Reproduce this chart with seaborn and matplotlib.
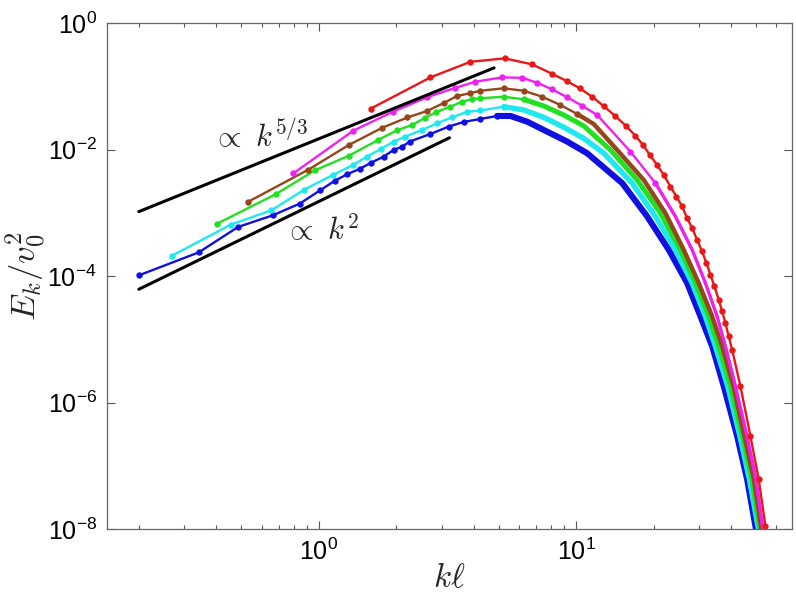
import numpy as np
import pandas as pd

import seaborn as sns
import matplotlib.pyplot as plt

# spectra (k*l, E_k/v0^2)
k_blue = [0.200, 0.342, 0.486, 0.664, 0.845, 1.015, 1.154, 1.293, 1.443, 1.592, 1.789, 1.956, 2.109, 2.257,
          2.716, 3.199, 3.659, 4.249, 4.933, 5.556, 6.451, 7.715, 9.226, 11.03, 15.1, 18.88, 22.90,
          26.99, 30.40, 33.77, 37.45, 42.22, 46.17, 49.73, 51.08]
e_blue = [1.03e-4, 2.38e-4, 6.01e-4, 9.2e-4, 1.41e-3, 2.30e-3, 3.23e-3, 4.13e-3, 4.99e-3, 6.21e-3, 7.81e-3,
          9.96e-3, 1.12e-2, 1.35e-2, 1.78e-2, 2.33e-2, 2.76e-2, 3.08e-2, 3.43e-2, 3.43e-2, 2.79e-2, 1.94e-2,
          1.35e-2, 8.84e-3, 2.97e-3, 8.81e-4, 2.62e-4, 7.81e-5, 2.32e-5, 7.78e-6, 1.82e-6, 2.95e-7, 6.10e-8,
          1.11e-8, 5.7e-9]

k_cyan = [0.268, 0.456, 0.654, 0.880, 1.137, 1.360, 1.542, 1.741, 1.956, 2.172, 2.521, 2.884, 3.298, 3.772,
          4.249, 5.232, 6.258, 7.483, 8.949, 10.70, 12.80, 16.51, 20.33, 24.31, 28.23, 31.78, 34.77, 38.81,
          43.29, 47.13, 50.86, 52.71]
e_cyan = [2.09e-4, 6.56e-4, 1.10e-3, 2.35e-3, 4.01e-3, 5.77e-3, 7.81e-3, 1.03e-2, 1.35e-2, 1.62e-2, 2.06e-2,
          2.63e-2, 3.27e-2, 4.01e-2, 4.19e-2, 4.81e-2, 4.27e-2, 3.27e-2, 2.28e-2, 1.52e-2, 8.84e-3, 2.97e-3,
          8.81e-4, 2.62e-4, 7.81e-5, 2.32e-5, 7.78e-6, 1.82e-6, 2.95e-7, 6.10e-8, 1.11e-8, 5.7e-9]

k_green = [0.401, 0.682, 0.966, 1.313, 1.695, 2.016, 2.306, 2.597, 2.866, 3.249, 3.607, 3.945, 4.249, 5.232,
           6.258, 7.483, 8.949, 10.70, 13.59, 17.26, 21.26, 25.42, 29.08, 32.74, 35.81, 39.77, 44.27, 48.19,
           51.54, 53.19]
e_green = [6.70e-4, 1.99e-3, 4.73e-3, 8.10e-3, 1.42e-2, 2.04e-2, 2.47e-2, 3.23e-2, 3.97e-2, 4.81e-2, 5.77e-2,
           6.37e-2, 6.53e-2, 6.92e-2, 6.30e-2, 4.94e-2, 3.56e-2, 2.39e-2, 9.96e-3, 3.34e-3, 9.96e-4, 2.62e-4,
           7.81e-5, 2.32e-5, 7.78e-6, 1.82e-6, 2.95e-7, 6.10e-8, 1.11e-8, 5.7e-9]

k_brown = [0.533, 0.908, 1.308, 1.763, 2.211, 2.637, 3.078, 3.449, 3.861, 4.249, 5.232, 6.258, 7.379, 8.690,
           10.09, 11.71, 14.43, 18.31, 22.23, 26.18, 29.95, 33.77, 36.92, 40.84, 45.07, 49.07, 52.24, 53.90]
e_brown = [1.51e-3, 4.81e-3, 1.19e-2, 2.23e-2, 3.25e-2, 4.12e-2, 5.57e-2, 7.11e-2, 7.84e-2, 8.61e-2, 9.40e-2,
           8.61e-2, 6.92e-2, 5.12e-2, 3.69e-2, 2.56e-2, 9.96e-3, 3.34e-3, 9.96e-4, 2.62e-4, 7.81e-5, 2.32e-5,
           7.78e-6, 1.82e-6, 2.95e-7, 6.10e-8, 1.11e-8, 5.7e-9]

k_magenta = [0.797, 1.364, 1.942, 2.637, 3.376, 4.063, 5.159, 6.169, 7.055, 8.068, 9.226, 10.55, 12.07, 16.26,
             20.33, 24.31, 28.23, 31.78, 35.30, 38.02, 41.57, 46.09, 49.95, 52.96, 54.63]
e_magenta = [4.24e-3, 2.01e-2, 4.01e-2, 6.78e-2, 9.51e-2, 0.1195, 0.140, 0.138, 0.115, 9.06e-2, 6.78e-2,
             4.99e-2, 3.56e-2, 9.37e-3, 2.97e-3, 8.81e-4, 2.62e-4, 7.81e-5, 2.32e-5, 7.78e-6, 1.82e-6, 2.95e-7,
             6.10e-8, 1.11e-8, 5.7e-9]

k_red = [1.592, 2.716, 3.885, 5.279, 6.748, 8.03, 9.226, 10.33, 11.54, 12.83, 14.21, 15.68, 17.00, 18.21,
         19.32, 20.64, 21.89, 23.25, 24.53, 25.81, 26.99, 28.23, 29.52, 30.87, 32.08, 33.25, 34.46, 35.81,
         36.92, 38.02, 39.16, 40.36, 43.48, 47.55, 51.22, 54.38, 56.10]
e_red = [4.48e-2, 0.140, 0.247, 0.280, 0.225, 0.161, 0.1217, 9.40e-2, 6.92e-2, 4.88e-2, 3.40e-2, 2.36e-2,
         1.66e-2, 1.19e-2, 8.31e-3, 5.77e-3, 4.01e-3, 2.62e-3, 1.82e-3, 1.27e-3, 8.30e-4, 5.77e-4, 3.77e-4,
         2.46e-4, 1.62e-4, 1.06e-4, 6.90e-5, 4.25e-5, 2.78e-5, 1.82e-5, 1.12e-5, 6.90e-6, 1.82e-6, 2.95e-7,
         6.10e-8, 1.11e-8, 5.7e-9]

# guide lines (end points)
k_53 = [0.2, 4.8]
e_53 = [1.05e-3, 0.198]
k_2 = [0.2, 3.22]
e_2 = [6.2e-5, 1.55e-2]

series = [
    ("blue", k_blue, e_blue, "#1010e0", 5.0, 4.4),
    ("cyan", k_cyan, e_cyan, "#20e8f0", 5.3, 3.9),
    ("green", k_green, e_green, "#20e020", 6.3, 3.6),
    ("brown", k_brown, e_brown, "#96461a", 11.0, 3.2),
    ("magenta", k_magenta, e_magenta, "#f020f0", 22.0, 2.4),
    ("red", k_red, e_red, "#e81818", 100.0, 1.6),
]

sns.set_style("ticks")
plt.rcParams['font.family'] = ['Liberation Sans', 'DejaVu Sans']

fig, ax = plt.subplots(figsize=(7.96, 6.01), dpi=100)
fig.subplots_adjust(left=0.134, right=0.995, bottom=0.120, top=0.961)
ax.set_xscale("log")
ax.set_yscale("log")

for name, k, e, c, k_dense, lw_dense in series:
    df = pd.DataFrame({"k": k, "E": e})
    mask = list(df["k"] < k_dense)
    sns.lineplot(data=df, x="k", y="E", color=c, lw=1.7, marker="o", markersize=4.6,
                 markeredgewidth=0, markevery=mask, estimator=None, solid_joinstyle="round", ax=ax)
    dense = df[df["k"] >= k_dense * 0.9]
    if len(dense) > 1:
        sns.lineplot(data=dense, x="k", y="E", color=c, lw=lw_dense, estimator=None,
                     solid_joinstyle="round", solid_capstyle="round", ax=ax)

sns.lineplot(x=k_53, y=e_53, color="black", lw=2.2, estimator=None, ax=ax)
sns.lineplot(x=k_2, y=e_2, color="black", lw=2.2, estimator=None, ax=ax)

ax.text(0.385, 1.11e-2, r"$\propto\ k^{5/3}$", fontsize=22, math_fontfamily="cm")
ax.text(0.73, 3.8e-4, r"$\propto\ k^{2}$", fontsize=22, math_fontfamily="cm")

ax.set_xlim(0.15, 69)
ax.set_ylim(1e-8, 1)
ax.set_yticks([1e-8, 1e-6, 1e-4, 1e-2, 1])
ax.yaxis.set_minor_locator(plt.NullLocator())

ax.set_xlabel(r"$k\ell$", fontsize=24, math_fontfamily="cm")
ax.set_ylabel(r"$E_k/v_0^2$", fontsize=25, math_fontfamily="cm")
ax.xaxis.set_label_coords(0.5, -0.068)
ax.yaxis.set_label_coords(-0.085, 0.5)

ax.tick_params(which="both", direction="in", top=True, right=True, labelsize=18, colors="#555555",
               labelcolor="black", width=0.8)
ax.tick_params(which="major", length=6, pad=7)
ax.tick_params(which="minor", length=3)
for s in ax.spines.values():
    s.set_color("#666666")
    s.set_linewidth(0.9)

plt.savefig("out.png", dpi=100)
